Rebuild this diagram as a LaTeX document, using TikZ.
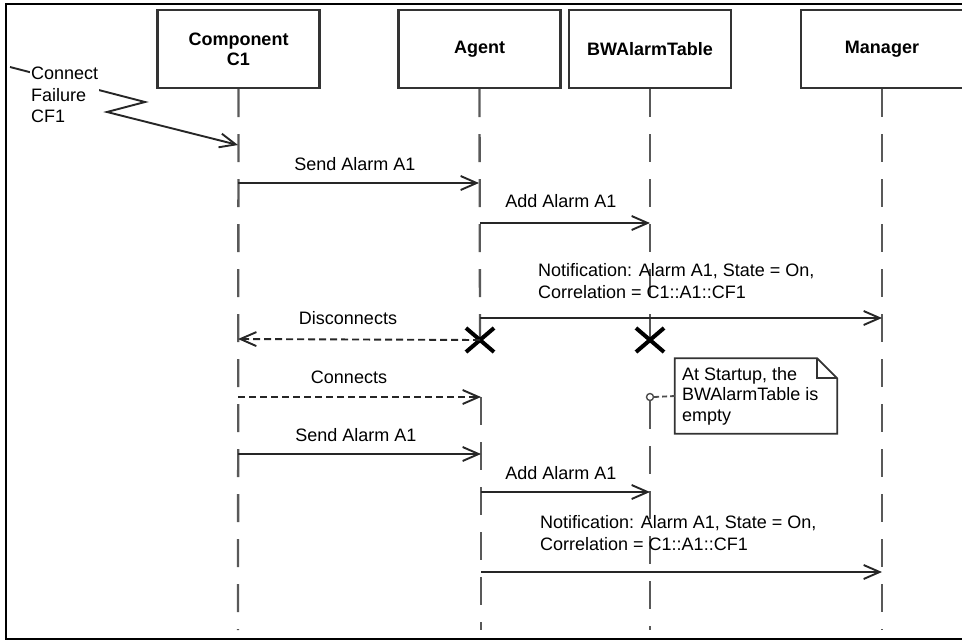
\documentclass[tikz,border=0pt]{standalone}
\usepackage{fontspec}
\setmainfont{Liberation Sans}
\usetikzlibrary{arrows.meta,calc,shapes.misc}

\begin{document}
\begin{tikzpicture}[x=1pt,y=-1pt,
  every node/.style={font=\fontsize{18}{21}\selectfont, inner sep=0pt},
  actor/.style={draw=black!80, line width=2.2pt, fill=white,
    minimum width=162pt, minimum height=78pt,
    font=\fontsize{18}{20}\selectfont\bfseries, align=center},
  life/.style={draw=black!65, line width=2.3pt, dash pattern=on 28pt off 17pt},
  msg/.style={draw=black!85, line width=1.9pt,
    -{Straight Barb[length=16pt,width=14pt]}},
  reply/.style={msg, dash pattern=on 7pt off 4pt},
  kill/.style={cross out, draw=black, line width=4pt,
    minimum width=24pt, minimum height=20pt},
  notebox/.style={draw=black!80, line width=1.8pt, fill=white},
  multi/.style={align=left, anchor=west, font=\fontsize{18}{22}\selectfont}
]
\useasboundingbox (0,0) rectangle (962,641);

% outer frame
\draw[line width=1.8pt] (962,4) -- (6,4) -- (6,639) -- (962,639);

% lifeline heads
\node[actor] (comp)  at (238.5,49) {Component\\C1};
\node[actor] (agent) at (479.5,49) {Agent};
\node[actor] (table) at (650,49)   {BWAlarmTable};
\node[actor] (mgr)   at (882,49)   {Manager};

% lifeline end points
\coordinate (compEnd) at (238,630);
\coordinate (mgrEnd)  at (882,630);
\coordinate (agentX)  at (480,340);
\coordinate (tableX)  at (650,340);
\coordinate (agentB)  at (481,397);
\coordinate (agentEnd) at (481,630);
\coordinate (tableEnd) at (650,630);

% lifelines
\draw[life] (comp.south) -- (compEnd);
\draw[life] (mgr.south) -- (mgrEnd);
\draw[life] (agent.south) -- (agentX);
\draw[life] (table.south) -- (tableX);
\draw[life] (agentB) -- (agentEnd);

% note anchor on the table lifeline
\node[circle, draw=black!70, line width=1.4pt, fill=white, minimum size=7pt] (anch) at (650,397) {};
\draw[life] (anch.south) -- (tableEnd);

% connect failure (lost message with lightning)
\coordinate (cfA) at (10,67);
\coordinate (cfB) at (145,102);
\coordinate (cfC) at (107,112);
\coordinate (cfEnd) at (238,145);
\draw[msg] (cfA) -- (cfB) -- (cfC) -- (cfEnd);
\node[multi, fill=white, inner sep=1pt, font=\fontsize{18}{21.5}\selectfont] (cfLabel) at (30,95) {Connect\\Failure\\CF1};

% first round of messages
\coordinate (m1s) at (238,183); \coordinate (m1e) at (479,183);
\draw[msg] (m1s) -- (m1e);
\node (m1l) at (355,164) {Send Alarm A1};

\coordinate (m2s) at (480,223); \coordinate (m2e) at (650,223);
\draw[msg] (m2s) -- (m2e);
\node (m2l) at (561,201) {Add Alarm A1};

\coordinate (m3s) at (480,318); \coordinate (m3e) at (882,318);
\draw[msg] (m3s) -- (m3e);
\node[multi] (m3l) at (538,281) {Notification: Alarm A1, State = On,\\Correlation = C1::A1::CF1};

% disconnect
\node[kill] (agentKill) at (agentX) {};
\node[kill] (tableKill) at (tableX) {};
\coordinate (dcE) at (238,339);
\draw[reply] (agentKill.center) -- (dcE);
\node (dcl) at (348,318) {Disconnects};

% reconnect
\coordinate (rcS) at (238,397);
\draw[reply] (rcS) -- (agentB);
\node (rcl) at (349,377) {Connects};

% note
\node[minimum width=162pt, minimum height=75pt] (note) at (756,396) {};
\draw[notebox] (note.south west) -- (note.north west)
  -- ($(note.north east)+(-20,0)$) -- ($(note.north east)+(0,20)$)
  -- (note.south east) -- cycle;
\draw[notebox, fill=none] ($(note.north east)+(-20,0)$) -- ($(note.north east)+(-20,20)$) -- ($(note.north east)+(0,20)$);
\node[multi, font=\fontsize{18}{20.5}\selectfont] (noteText) at ($(note.west)+(7,0)$) {At Startup, the\\BWAlarmTable is\\empty};
\draw[draw=black!70, line width=1.8pt, dash pattern=on 5pt off 3pt] (anch.east) -- (note.west);

% second round of messages
\coordinate (n1s) at (238,454); \coordinate (n1e) at (481,454);
\draw[msg] (n1s) -- (n1e);
\node (n1l) at (356,435) {Send Alarm A1};

\coordinate (n2s) at (481,492); \coordinate (n2e) at (650,492);
\draw[msg] (n2s) -- (n2e);
\node (n2l) at (561,473) {Add Alarm A1};

\coordinate (n3s) at (481,572); \coordinate (n3e) at (882,572);
\draw[msg] (n3s) -- (n3e);
\node[multi] (n3l) at (540,533) {Notification: Alarm A1, State = On,\\Correlation = C1::A1::CF1};
\end{tikzpicture}
\end{document}
